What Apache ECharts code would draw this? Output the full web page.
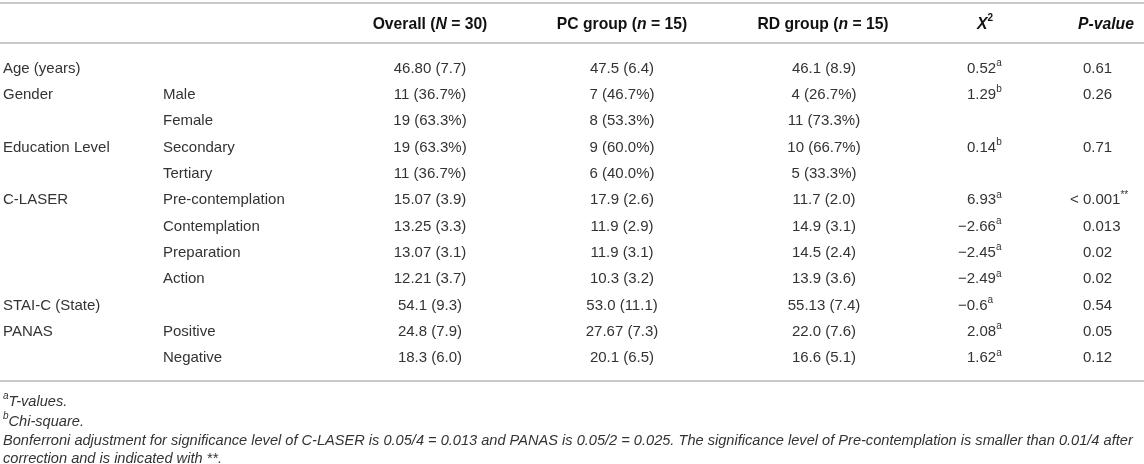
<!DOCTYPE html>
<html>
<head>
<meta charset="utf-8">
<title>Table</title>
<script src="https://cdn.jsdelivr.net/npm/echarts@6/dist/echarts.min.js"></script>
<style>
	html, body { margin: 0; padding: 0; background: #fff; }
	#main { width: 1144px; height: 464px; }
</style>
</head>
<body>
<div id="main"></div>
<script>
var rowGroup = ['Age (years)', 'Gender', '', 'Education Level', '', 'C-LASER', '', '', '', 'STAI-C (State)', 'PANAS', ''];
var rowSub = ['', 'Male', 'Female', 'Secondary', 'Tertiary', 'Pre-contemplation', 'Contemplation', 'Preparation', 'Action', '', 'Positive', 'Negative'];
var overall = ['46.80 (7.7)', '11 (36.7%)', '19 (63.3%)', '19 (63.3%)', '11 (36.7%)', '15.07 (3.9)', '13.25 (3.3)', '13.07 (3.1)', '12.21 (3.7)', '54.1 (9.3)', '24.8 (7.9)', '18.3 (6.0)'];
var pcGroup = ['47.5 (6.4)', '7 (46.7%)', '8 (53.3%)', '9 (60.0%)', '6 (40.0%)', '17.9 (2.6)', '11.9 (2.9)', '11.9 (3.1)', '10.3 (3.2)', '53.0 (11.1)', '27.67 (7.3)', '20.1 (6.5)'];
var rdGroup = ['46.1 (8.9)', '4 (26.7%)', '11 (73.3%)', '10 (66.7%)', '5 (33.3%)', '11.7 (2.0)', '14.9 (3.1)', '14.5 (2.4)', '13.9 (3.6)', '55.13 (7.4)', '22.0 (7.6)', '16.6 (5.1)'];
var chiSq = ['0.52', '1.29', '', '0.14', '', '6.93', '\u22122.66', '\u22122.45', '\u22122.49', '\u22120.6', '2.08', '1.62'];
var chiNote = ['a', 'b', '', 'b', '', 'a', 'a', 'a', 'a', 'a', 'a', 'a'];
var pValue = ['0.61', '0.26', '', '0.71', '', '< 0.001', '0.013', '0.02', '0.02', '0.54', '0.05', '0.12'];
var pNote = ['', '', '', '', '', '**', '', '', '', '', '', ''];
var footnotes = [
	['a', 'T-values.'],
	['b', 'Chi-square.'],
	['', 'Bonferroni adjustment for significance level of C-LASER is 0.05/4 = 0.013 and PANAS is 0.05/2 = 0.025. The significance level of Pre-contemplation is smaller than 0.01/4 after'],
	['', 'correction and is indicated with **.']
];

// layout
var W = 1144;
var FONT = '"Liberation Sans", Helvetica, Arial, sans-serif';
var COL_X = [3, 163, 430, 622, 824, 967, 1083];
var COL_ALIGN = ['left', 'left', 'center', 'center', 'center', 'left', 'left'];
var TXT = '#333';
var RULE = '#c9c9c9';

var columns = [rowGroup, rowSub, overall, pcGroup, rdGroup, chiSq, pValue];
var notes = [null, null, null, null, null, chiNote, pNote];
var rowIdx = [];
for (var i = 0; i < rowGroup.length; i++) rowIdx.push(String(i));

var cells = [];
for (var c = 0; c < columns.length; c++) {
	for (var r = 0; r < columns[c].length; r++) {
		if (columns[c][r] !== '') cells.push([c, r]);
	}
}

var rich = {
	n: { fontSize: 15, fontFamily: FONT, fill: TXT, lineHeight: 18, verticalAlign: 'bottom' },
	sup: { fontSize: 10, fontFamily: FONT, fill: TXT, lineHeight: 12, verticalAlign: 'top' }
};

function renderCell(params, api) {
	var c = api.value(0), r = api.value(1);
	var pt = api.coord([COL_X[c], r]);
	var txt = columns[c][r];
	var x = pt[0];
	// hang the minus sign and "<" so the digits line up
	if (c == 5 && txt.charAt(0) == '\u2212') x -= 9;
	if (c == 6 && txt.charAt(0) == '<') x -= 13;
	var s = '{n|' + txt + '}';
	if (notes[c] && notes[c][r]) s += '{sup|' + notes[c][r] + '}';
	return {
		type: 'text',
		x: x,
		y: pt[1],
		style: {
			text: s,
			rich: rich,
			align: COL_ALIGN[c],
			verticalAlign: 'middle'
		}
	};
}

var headRich = {
	b: { fontSize: 15.7, fontWeight: 'bold', fontFamily: FONT, fill: '#111', lineHeight: 19, verticalAlign: 'bottom' },
	bi: { fontSize: 15.7, fontWeight: 'bold', fontStyle: 'italic', fontFamily: FONT, fill: '#111', lineHeight: 19, verticalAlign: 'bottom' },
	bsup: { fontSize: 10, fontWeight: 'bold', fontFamily: FONT, fill: '#111', lineHeight: 12, verticalAlign: 'top' }
};
var headers = [
	[430, 'center', '{b|Overall (}{bi|N}{b| = 30)}'],
	[622, 'center', '{b|PC group (}{bi|n}{b| = 15)}'],
	[823, 'center', '{b|RD group (}{bi|n}{b| = 15)}'],
	[985, 'center', '{bi|X}{bsup|2}'],
	[1106, 'center', '{bi|P-value}']
];

var footRich = {
	t: { fontSize: 14.6, fontStyle: 'italic', fontFamily: FONT, fill: TXT, lineHeight: 18, verticalAlign: 'bottom' },
	sup: { fontSize: 10, fontStyle: 'italic', fontFamily: FONT, fill: TXT, lineHeight: 12, verticalAlign: 'top' }
};
var FOOT_Y = [400, 420, 439, 457];

var graphics = [];
[3, 43, 381].forEach(function(y) {
	graphics.push({
		type: 'line',
		shape: { x1: 0, y1: y, x2: W, y2: y },
		style: { stroke: RULE, lineWidth: 2 }
	});
});
headers.forEach(function(h) {
	graphics.push({
		type: 'text',
		x: h[0],
		y: 23,
		style: { text: h[2], rich: headRich, align: h[1], verticalAlign: 'middle' }
	});
});
footnotes.forEach(function(f, k) {
	var s = (f[0] ? '{sup|' + f[0] + '}' : '') + '{t|' + f[1] + '}';
	graphics.push({
		type: 'text',
		x: 3,
		y: FOOT_Y[k],
		style: { text: s, rich: footRich, align: 'left', verticalAlign: 'middle' }
	});
});

var myChart = echarts.init(document.getElementById('main'));
var option = {
	animation: false,
	backgroundColor: '#fff',
	grid: { left: 0, right: 0, top: 54, bottom: 94 },
	xAxis: { type: 'value', min: 0, max: W, show: false },
	yAxis: { type: 'category', data: rowIdx, inverse: true, show: false },
	graphic: graphics,
	series: [{
		type: 'custom',
		renderItem: renderCell,
		data: cells,
		silent: true
	}]
};
myChart.setOption(option);
</script>
</body>
</html>
